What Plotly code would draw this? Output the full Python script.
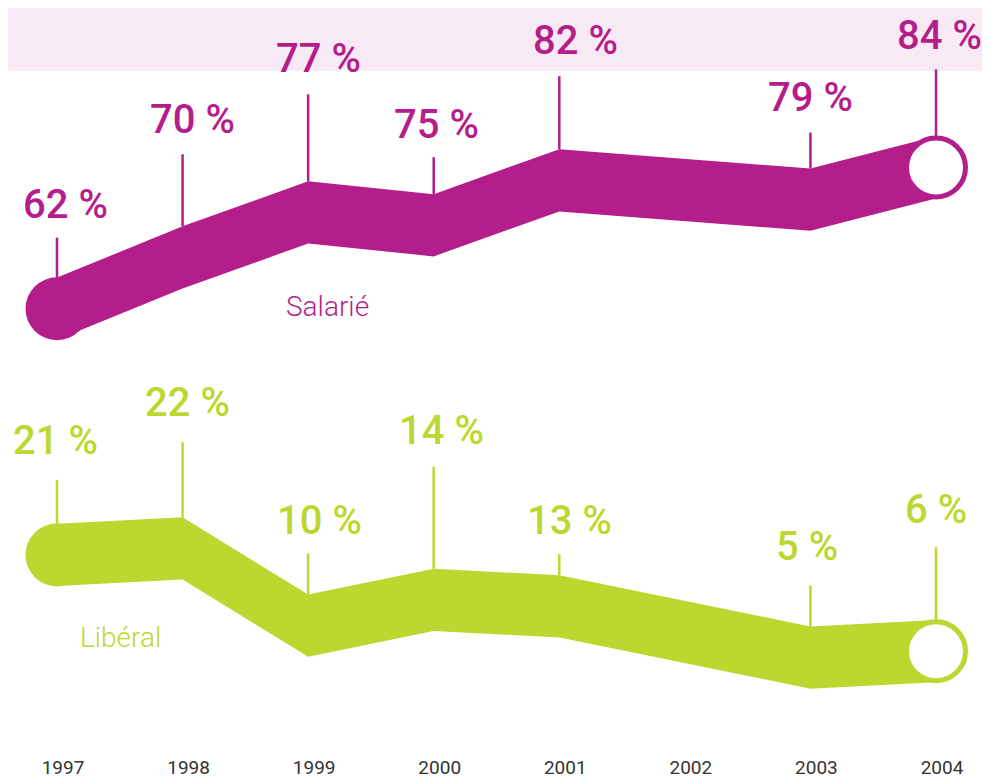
import plotly.graph_objects as go

# ---------------- data ----------------
years = [1997, 1998, 1999, 2000, 2001, 2003, 2004]
tick_years = [1997, 1998, 1999, 2000, 2001, 2002, 2003, 2004]
salarie = [62, 70, 77, 75, 82, 79, 84]
liberal = [21, 22, 10, 14, 13, 5, 6]
series_names = ["Salarié", "Libéral"]

# ---------------- style / layout ----------------
# the page body has an 8px margin, so the figure is 8px smaller on each axis
FIG_W, FIG_H = 982, 771
MARGIN_B = 31
PLOT_H = FIG_H - MARGIN_B
PX_PER_PCT = 6.5          # vertical scale shared by both bands
BAND_PX = 63              # vertical thickness of the ribbons
SAL_AXIS_TOP = 103.99
LIB_AXIS_TOP = 101.33
X_RANGE = [1996.6098, 2004.43]

PURPLE = "#b41e8b"
GREEN = "#bdd731"
PINK_BG = "#f7eaf4"
YEAR_COLOR = "#333333"

sal_leader_px = [40, 72, 87, 37, 73, 36, 67]
sal_label_px = [59, 92, 108, 55, 94, 56, 86]
sal_label_dx = [8, 10, 10, 3, 16, 0, 3]
lib_leader_px = [44, 75, 41, 102, 21, 41, 73]
lib_label_px = [69, 100, 59, 124, 40, 66, 96]
lib_label_dx = [-2, 5, 11, 8, 10, -3, 0]

LABEL_BOX_PAD = 11  # distance from annotation box bottom to text baseline

span = PLOT_H / PX_PER_PCT
band_units = BAND_PX / PX_PER_PCT

fig = go.Figure()

series = [
    (salarie, PURPLE, "y", "y", sal_leader_px, sal_label_px, sal_label_dx),
    (liberal, GREEN, "y2", "y2", lib_leader_px, lib_label_px, lib_label_dx),
]

shapes = [
    dict(type="rect", xref="paper", yref="paper", x0=0, x1=1,
         ysizemode="pixel", yanchor=1, y0=0, y1=-62.7,
         fillcolor=PINK_BG, line=dict(width=0), layer="below")
]
annotations = []

for vals, color, yaxis, yref, leaders, labpx, labdx in series:
    bottom = [v - band_units for v in vals]
    # ribbon
    fig.add_trace(go.Scatter(
        x=years + years[::-1], y=vals + bottom[::-1],
        fill="toself", fillcolor=color, mode="lines",
        line=dict(width=0, color=color), yaxis=yaxis,
        hoverinfo="skip", showlegend=False))
    # rounded start cap
    fig.add_trace(go.Scatter(
        x=[years[0]], y=[vals[0] - band_units / 2], mode="markers",
        marker=dict(size=BAND_PX, color=color, line=dict(width=0)),
        yaxis=yaxis, hoverinfo="skip", showlegend=False, cliponaxis=False))
    # end ring
    fig.add_trace(go.Scatter(
        x=[years[-1]], y=[vals[-1] - band_units / 2], mode="markers",
        marker=dict(size=59, color="white", line=dict(width=5, color=color)),
        yaxis=yaxis, hoverinfo="skip", showlegend=False, cliponaxis=False))
    for x, v, ln, lp, dx in zip(years, vals, leaders, labpx, labdx):
        shapes.append(dict(type="line", xref="x", yref=yref,
                           x0=x, x1=x, ysizemode="pixel", yanchor=v,
                           y0=0, y1=ln, line=dict(color=color, width=2.5)))
        annotations.append(dict(
            x=x, y=v, xref="x", yref=yref, text=f"{v} %", showarrow=False,
            xanchor="center", yanchor="bottom", xshift=dx,
            yshift=lp - LABEL_BOX_PAD,
            font=dict(family="Roboto", size=40, color=color, weight=500)))

# series names
annotations.append(dict(x=319 / FIG_W, y=1 - 302 / PLOT_H, xref="paper", yref="paper",
                        text=series_names[0], showarrow=False, xanchor="center",
                        yanchor="middle",
                        font=dict(family="Roboto", size=28, color=PURPLE, weight=300)))
annotations.append(dict(x=112.5 / FIG_W, y=1 - 637 / PLOT_H, xref="paper", yref="paper",
                        text=series_names[1], showarrow=False, xanchor="center",
                        yanchor="middle",
                        font=dict(family="Roboto", size=28, color=GREEN, weight=300)))

fig.update_layout(
    width=FIG_W, height=FIG_H,
    margin=dict(l=0, r=0, t=0, b=MARGIN_B),
    paper_bgcolor="white", plot_bgcolor="white",
    showlegend=False,
    xaxis=dict(range=X_RANGE, tickvals=tick_years, ticktext=[str(y) for y in tick_years],
               showgrid=False, zeroline=False, showline=False, ticks="",
               ticklabelstandoff=15, ticklabelshift=6,
               tickfont=dict(family="Roboto", size=19, color=YEAR_COLOR, weight=400)),
    yaxis=dict(range=[SAL_AXIS_TOP - span, SAL_AXIS_TOP], visible=False),
    yaxis2=dict(range=[LIB_AXIS_TOP - span, LIB_AXIS_TOP], visible=False,
                overlaying="y"),
    shapes=shapes,
    annotations=annotations,
)

fig.write_html("out.html")
